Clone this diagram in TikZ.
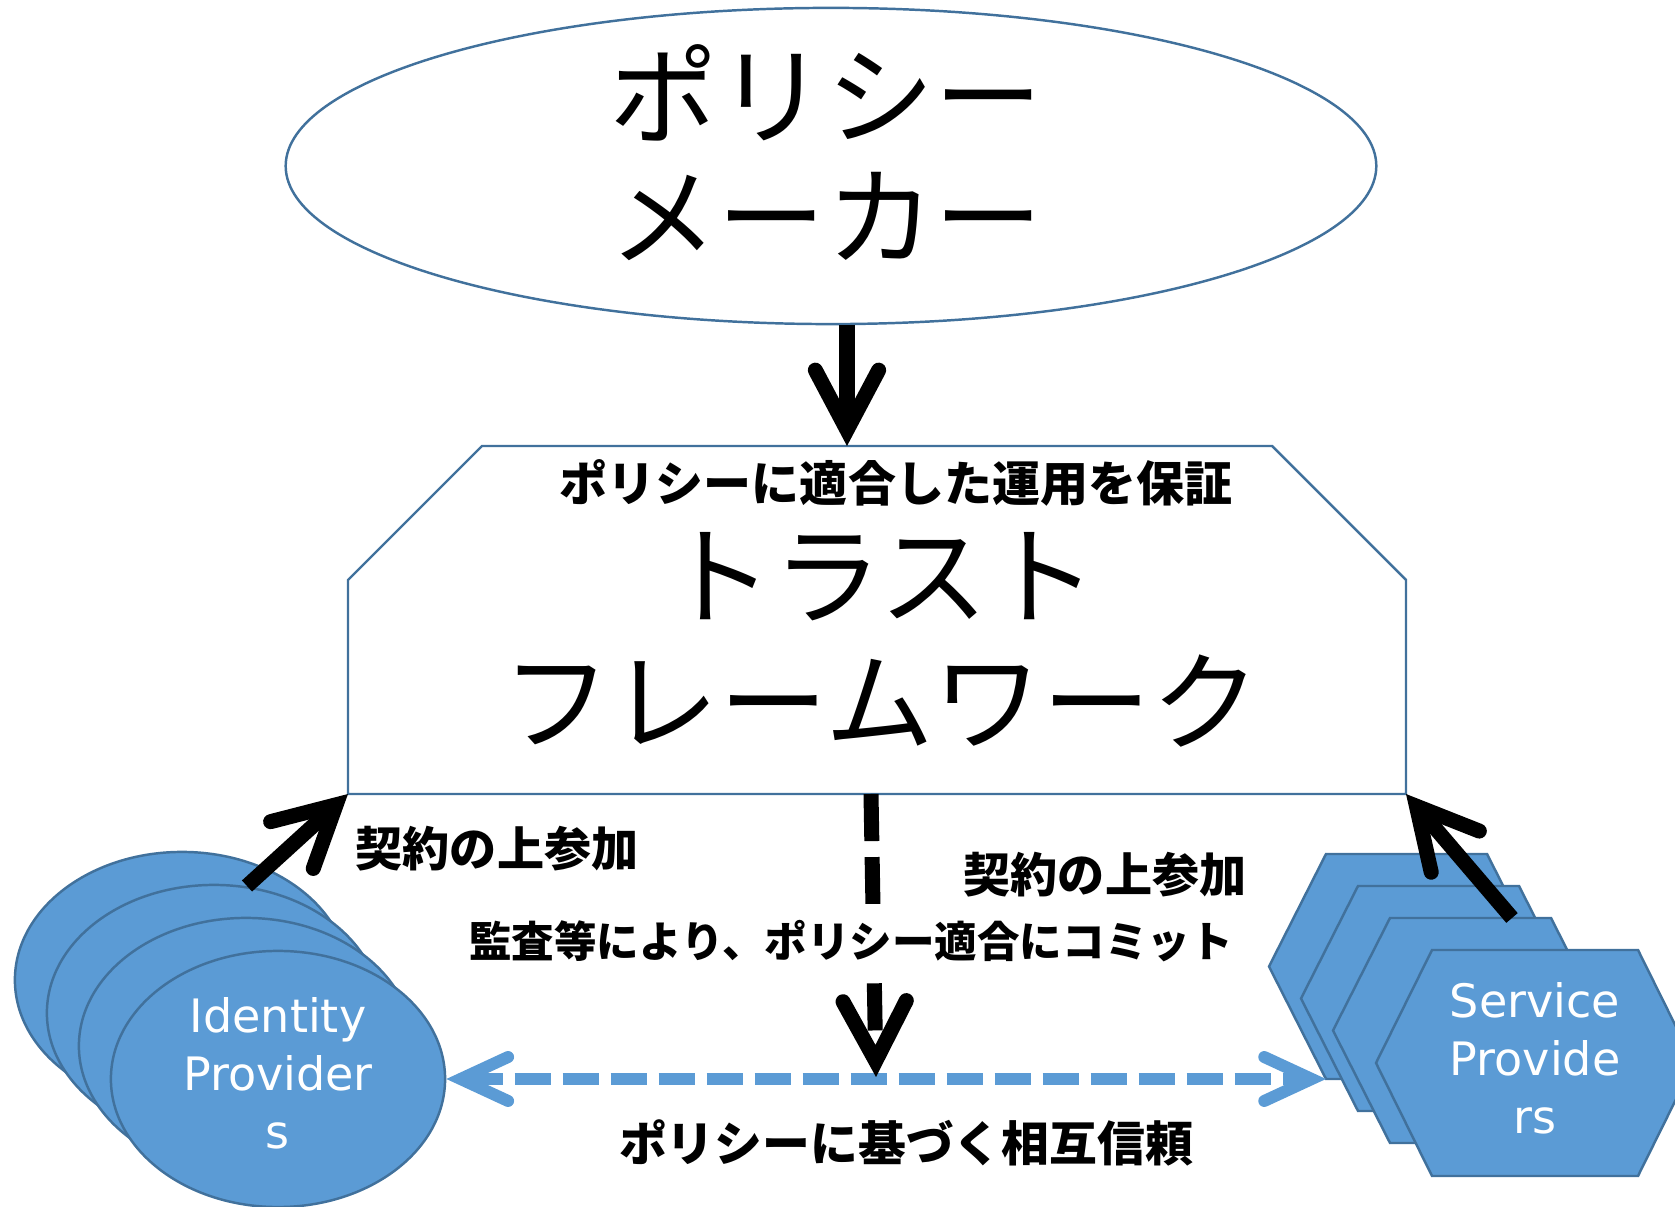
\documentclass[tikz,border=0pt]{standalone}
\usepackage{fontspec}
\usepackage{graphicx}
\usetikzlibrary{arrows.meta,shapes.geometric}
\newfontfamily\jp{Noto Sans CJK JP}
\newfontfamily\lat{DejaVu Sans}
\definecolor{fillblue}{RGB}{91,155,213}
\definecolor{edgeblue}{RGB}{65,113,156}
\tikzset{
  px/.style={x=0.01cm,y=-0.01cm},
  blueshape/.style={fill=fillblue, draw=edgeblue, line width=0.7pt},
  outline/.style={draw=edgeblue, line width=0.7pt},
  blackarrow/.style={line width=4.27pt, -{Straight Barb[length=17pt,width=18pt,line cap=round,line join=miter]}},
  blackdash/.style={blackarrow, dash pattern=on 13.4pt off 4.55pt},
  bluedash/.style={line width=3.41pt, draw=fillblue, dash pattern=on 10.24pt off 3.41pt,
    {Straight Barb[length=13.5pt,width=12.5pt,line cap=round,line join=miter]}-{Straight Barb[length=13.5pt,width=12.5pt,line cap=round,line join=miter]}},
  boldjp/.style={font=\jp\bfseries\fontsize{#1}{#1}\selectfont, inner sep=1pt},
  whitelat/.style={text=white, font=\lat\fontsize{13.1}{16.5}\selectfont, align=center, inner sep=0pt},
}
\begin{document}
\begin{tikzpicture}[px]
\useasboundingbox (0,0) rectangle (1675,1207);
\clip (0,0) rectangle (1675,1207);
% policy maker ellipse
\node[outline, ellipse, minimum width=10.9cm, minimum height=3.16cm, inner sep=0pt] (pm) at (831,166) {};
\node[align=center, inner sep=0pt, font=\jp\fontsize{30.8}{34.4}\selectfont] (pmtext) at (826,153) {ポリシー\\メーカー};
% trust framework box
\coordinate (tl) at (482,446);
\coordinate (tr) at (1272,446);
\coordinate (rt) at (1406,580);
\coordinate (br) at (1406,794);
\coordinate (bl) at (348,794);
\coordinate (lt) at (348,580);
\draw[outline, fill=white] (tl) -- (tr) -- (rt) -- (br) -- (bl) -- (lt) -- cycle;
\node[boldjp=13.65] (guar) at (896,483) {ポリシーに適合した運用を保証};
\node[align=center, inner sep=0pt, font=\jp\fontsize{30.9}{35.8}\selectfont] (tf) at (881,640) {トラスト\\フレームワーク};
% identity providers
\foreach \i/\cx/\cy in {1/182/980, 2/214/1013, 3/246/1046, 4/278/1079}
  \node[blueshape, ellipse, minimum width=3.34cm, minimum height=2.56cm, inner sep=0pt] (idp\i) at (\cx,\cy) {};
\node[whitelat] (idptext) at (278,1073) {Identity\\Provider\\s};
% service providers
\foreach \k in {0,1,2}
  \draw[blueshape, shift={(32*\k,32*\k)}] (1326,854) -- ++(161,0) -- ++(57,112.5) -- ++(-57,112.5) -- ++(-161,0) -- ++(-57,-112.5) -- cycle;
\draw[blueshape] (1432,950) -- (1638,950) -- (1694,1063) -- (1638,1176) -- (1432,1176) -- (1376,1063) -- cycle;
\node[whitelat] (sptext) at (1535,1058) {Service\\Provide\\rs};
% connectors
\coordinate (a1s) at (847,325);
\coordinate (a1e) at (847,446);
\draw[blackarrow] (a1s) -- (a1e);
\coordinate (lts) at (247,886);
\draw[blackarrow] (lts) -- (bl);
\coordinate (rts) at (1512,918);
\draw[blackarrow] (rts) -- (br);
\coordinate (hexbl) at (1326,1079);
\draw[bluedash] (idp4.east) -- (hexbl);
\coordinate (ds) at (871,794);
\coordinate (de) at (876,1077);
\draw[blackdash] (ds) -- (de);
% labels
\node[boldjp=13.4] (lbl1) at (497,849) {契約の上参加};
\node[boldjp=13.4] (lbl2) at (1105,875) {契約の上参加};
\node[boldjp=12.1, fill=white, inner ysep=4.5pt] (audit) at (851,941) {監査等により、ポリシー適合にコミット};
\node[boldjp=13.6] (mutual) at (906,1143) {ポリシーに基づく相互信頼};
\end{tikzpicture}
\end{document}
